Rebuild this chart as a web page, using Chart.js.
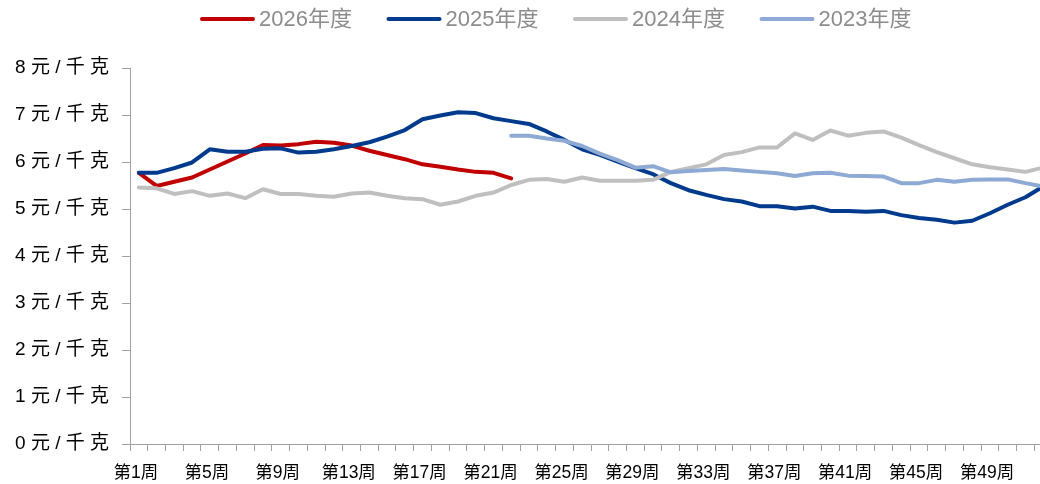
<!DOCTYPE html>
<html>
<head>
<meta charset="utf-8">
<script src="https://cdn.jsdelivr.net/npm/chart.js@4.4.1/dist/chart.umd.min.js"></script>
<style>
  html, body { margin: 0; padding: 0; background: #fff; overflow: hidden; }
  #wrap { position: absolute; left: 0; top: 0; width: 1060px; height: 484px; }
</style>
</head>
<body>
<div id="wrap"><canvas id="c"></canvas></div>
<script>
// ---- categories & tick labels ----
const weeks = ['第1周','第2周','第3周','第4周','第5周','第6周','第7周','第8周','第9周','第10周',
  '第11周','第12周','第13周','第14周','第15周','第16周','第17周','第18周','第19周','第20周',
  '第21周','第22周','第23周','第24周','第25周','第26周','第27周','第28周','第29周','第30周',
  '第31周','第32周','第33周','第34周','第35周','第36周','第37周','第38周','第39周','第40周',
  '第41周','第42周','第43周','第44周','第45周','第46周','第47周','第48周','第49周','第50周',
  '第51周','第52周'];
const xTickLabels = ['第1周','第5周','第9周','第13周','第17周','第21周','第25周','第29周',
  '第33周','第37周','第41周','第45周','第49周'];
const yTickLabels = ['0元/千克','1元/千克','2元/千克','3元/千克','4元/千克','5元/千克','6元/千克','7元/千克','8元/千克'];

// ---- series (元/千克) ----
const s2026 = [5.77,5.49,5.58,5.67,5.84,6.01,6.18,6.36,6.35,6.38,6.43,6.41,6.35,6.24,6.15,6.06,
  5.95,5.90,5.84,5.79,5.77,5.65];
const s2025 = [5.77,5.77,5.87,5.99,6.27,6.22,6.22,6.28,6.29,6.20,6.22,6.27,6.34,6.42,6.54,6.68,
  6.91,6.99,7.06,7.04,6.93,6.87,6.81,6.65,6.47,6.27,6.15,6.01,5.87,5.74,5.55,5.40,5.30,
  5.21,5.16,5.06,5.06,5.01,5.05,4.96,4.96,4.94,4.96,4.87,4.81,4.77,4.71,4.75,4.91,5.09,5.25,5.48];
const s2024 = [5.46,5.44,5.32,5.38,5.28,5.33,5.23,5.42,5.32,5.32,5.28,5.26,5.33,5.35,5.28,5.23,
  5.21,5.09,5.16,5.28,5.35,5.51,5.62,5.64,5.58,5.67,5.60,5.60,5.60,5.62,5.79,5.87,5.95,
  6.15,6.21,6.31,6.31,6.61,6.47,6.67,6.56,6.62,6.65,6.52,6.36,6.21,6.08,5.95,5.89,5.84,5.79,5.88];
const s2023 = [null,null,null,null,null,null,null,null,null,null,null,null,null,null,null,null,
  null,null,null,null,null,6.56,6.56,6.50,6.45,6.34,6.18,6.04,5.88,5.91,5.78,5.81,5.83,
  5.85,5.82,5.79,5.76,5.70,5.76,5.77,5.71,5.70,5.69,5.55,5.55,5.62,5.58,5.62,5.63,5.63,5.55,5.48];

const seriesNames = ['2026年度','2025年度','2024年度','2023年度'];
const seriesColors = ['#C00000','#003A8C','#BFBFBF','#8EA9D4'];
const seriesData = [s2026, s2025, s2024, s2023];
const seriesOrder = [3, 2, 1, 0]; // later years drawn on top

const axisFont = "'Liberation Sans', 'Noto Sans CJK SC', sans-serif";
const axisGrey = '#A0A0A0';

function pickLegendFont() {
  const c = document.createElement('canvas').getContext('2d');
  c.font = "24px 'DejaVu Sans Mono'";
  const base = c.measureText('2026').width;
  c.font = "24px 'Liberation Sans Narrow', 'DejaVu Sans Mono'";
  const n = c.measureText('2026').width;
  return (Math.abs(n - base) > 0.5)
    ? "24px 'Liberation Sans Narrow', 'Noto Sans CJK SC', sans-serif"
    : "22px 'Liberation Sans', 'Noto Sans CJK SC', sans-serif";
}
const legendFont = pickLegendFont();

const topLegend = {
  id: 'topLegend',
  afterDraw(chart) {
    const ctx = chart.ctx;
    ctx.save();
    ctx.font = legendFont;
    ctx.textBaseline = 'middle';
    ctx.textAlign = 'left';
    const startX = 200, pitch = 186.5, cy = 19, sampleW = 55;
    chart.data.datasets.forEach((ds, i) => {
      const x = startX + i * pitch;
      ctx.strokeStyle = ds.borderColor;
      ctx.lineWidth = 4;
      ctx.lineCap = 'round';
      ctx.beginPath();
      ctx.moveTo(x + 2, cy);
      ctx.lineTo(x + sampleW - 2, cy);
      ctx.stroke();
      ctx.fillStyle = '#8C8C8C';
      ctx.fillText(ds.label, x + sampleW + 4, cy + 1);
    });
    ctx.restore();
  }
};

new Chart(document.getElementById('c'), {
  type: 'line',
  data: {
    labels: weeks,
    datasets: seriesNames.map((name, i) => ({
      label: name,
      data: seriesData[i],
      borderColor: seriesColors[i],
      backgroundColor: seriesColors[i],
      borderWidth: 4,
      pointRadius: 0,
      pointHoverRadius: 0,
      tension: 0,
      fill: false,
      spanGaps: false,
      borderJoinStyle: 'round',
      borderCapStyle: 'round',
      order: seriesOrder[i]
    }))
  },
  options: {
    responsive: true,
    maintainAspectRatio: false,
    animation: false,
    devicePixelRatio: 1,
    events: [],
    layout: { padding: { top: 68, right: 8, left: 0, bottom: 0 } },
    plugins: {
      legend: { display: false },
      tooltip: { enabled: false },
      title: { display: false }
    },
    scales: {
      x: {
        type: 'category',
        offset: true,
        grid: { display: true, offset: true, drawOnChartArea: false, tickLength: 7, color: axisGrey, lineWidth: 1 },
        border: { display: true, color: axisGrey, width: 1 },
        ticks: {
          autoSkip: false,
          maxRotation: 0,
          minRotation: 0,
          padding: 12,
          labelOffset: -3,
          color: '#000',
          font: { family: axisFont, size: 17.5 },
          callback: function (v, i) {
            const lab = weeks[i];
            return xTickLabels.includes(lab) ? lab : '';
          }
        },
        afterFit: s => { s.height = 40; }
      },
      y: {
        min: 0,
        max: 8,
        grid: { display: true, drawOnChartArea: false, tickLength: 8, color: axisGrey, lineWidth: 1 },
        border: { display: true, color: axisGrey, width: 1 },
        ticks: {
          stepSize: 1,
          padding: 13,
          color: '#000',
          font: { family: axisFont, size: 19 },
          callback: function (v) {
            const lab = yTickLabels[v];
            return lab ? lab.split('').join(' ') : '';
          }
        },
        afterFit: s => { s.width = 130; }
      }
    }
  },
  plugins: [topLegend]
});
</script>
</body>
</html>
